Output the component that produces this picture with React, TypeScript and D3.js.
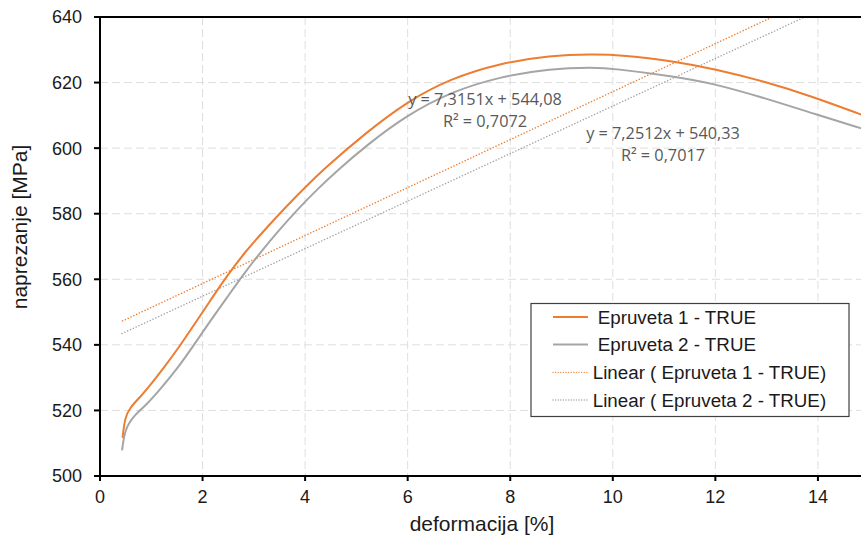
import React from 'react';
import * as d3 from 'd3';

const xTicks = [0, 2, 4, 6, 8, 10, 12, 14];
const yTicks = [500, 520, 540, 560, 580, 600, 620, 640];

const e1X = [0.44, 0.484, 0.58, 0.78, 1.01, 1.235, 1.56, 1.82, 2.15, 2.48, 2.8, 3.2, 3.59, 3.98, 4.34, 5.2, 5.98, 6.83, 7.8, 8.78, 9.6, 10.2, 11.19, 11.97, 13.0, 13.92, 14.85];
const e1Y = [511.6, 517.7, 520.8, 524.0, 528.3, 532.8, 539.7, 545.8, 553.5, 561.1, 567.8, 574.9, 581.5, 587.7, 593.3, 604.9, 614.1, 621.2, 625.9, 628.3, 628.7, 628.4, 626.5, 624.2, 620.2, 615.6, 610.2];

const e2X = [0.43, 0.484, 0.65, 0.91, 1.17, 1.5, 1.82, 2.15, 2.48, 2.8, 3.13, 3.46, 3.85, 4.24, 4.6, 5.2, 5.98, 6.83, 7.8, 8.78, 9.63, 10.0, 11.19, 11.97, 13.0, 13.92, 14.85];
const e2Y = [507.8, 514.2, 518.3, 521.8, 526.4, 532.6, 539.7, 547.3, 554.5, 561.6, 568.2, 574.4, 581.3, 587.5, 592.8, 600.9, 610, 617.1, 621.8, 624.3, 624.6, 624.3, 621.9, 619.7, 615.1, 610.5, 606];

const trendSlopes = [7.3151, 7.2512];
const trendIntercepts = [544.08, 540.33];
const trendEquations = ['y = 7,3151x + 544,08', 'y = 7,2512x + 540,33'];
const trendR2 = ['R² = 0,7072', 'R² = 0,7017'];
const legendLabels = ['Epruveta 1 - TRUE', 'Epruveta 2 - TRUE', 'Linear ( Epruveta 1 - TRUE)', 'Linear ( Epruveta 2 - TRUE)'];

const W = 861, H = 535;
const L = 100, R = 861, T = 17, B = 476;
const ORANGE = '#ED7D31';
const GRAY = '#A5A5A5';
const FONT = '"Liberation Sans", Arial, sans-serif';
const LFONT = '"Open Sans", "Noto Sans", sans-serif';

export default function App() {
  const x = d3.scaleLinear().domain([0, 14.84]).range([L, R]);
  const y = d3.scaleLinear().domain([500, 640]).range([B, T]);
  const line = d3.line<[number, number]>().x(d => x(d[0])).y(d => y(d[1])).curve(d3.curveBasis);
  const s1 = e1X.map((v, i) => [v, e1Y[i]] as [number, number]);
  const s2 = e2X.map((v, i) => [v, e2Y[i]] as [number, number]);
  const series = [s1, s2];
  const colors = [ORANGE, GRAY];
  const trend = trendSlopes.map((m, i) => {
    const xs = series[i].map(d => d[0]);
    const x0 = d3.min(xs)!, x1 = d3.max(xs)!;
    return [[x0, m * x0 + trendIntercepts[i]], [x1, m * x1 + trendIntercepts[i]]] as [number, number][];
  });
  const straight = d3.line<[number, number]>().x(d => x(d[0])).y(d => y(d[1]));
  const eqPos = [[485, 105, 127], [663, 139, 161]];
  const legendY = [317, 344.5, 372.3, 400];

  return (
    <svg width={W} height={H} style={{ position: 'absolute', left: 0, top: 0, background: '#fff' }}>
      <defs>
        <clipPath id="plot"><rect x={L} y={T} width={R - L} height={B - T} /></clipPath>
      </defs>
      <rect x={0} y={0} width={W} height={H} fill="#fff" />
      {xTicks.filter(t => t > 0).map(t => (
        <line key={'gx' + t} x1={x(t)} x2={x(t)} y1={T} y2={B} stroke="#dedede" strokeWidth={1} strokeDasharray="8,4" />
      ))}
      {yTicks.filter(t => t > 500 && t < 640).map(t => (
        <line key={'gy' + t} x1={L} x2={R} y1={y(t)} y2={y(t)} stroke="#dedede" strokeWidth={1} strokeDasharray="8,4" />
      ))}
      <g clipPath="url(#plot)">
        {trend.map((t, i) => (
          <path key={'t' + i} d={straight(t)!} fill="none" stroke={colors[i]} strokeWidth={1.5} strokeDasharray="0.1,3" strokeLinecap="round" />
        ))}
        {series.map((s, i) => (
          <path key={'s' + i} d={line(s)!} fill="none" stroke={colors[i]} strokeWidth={2} />
        ))}
      </g>
      {trendEquations.map((t, i) => (
        <g key={'eq' + i} fontFamily={LFONT} fontSize={16.3} fill="#595959" textAnchor="middle">
          <text x={eqPos[i][0]} y={eqPos[i][1]}>{t}</text>
          <text x={eqPos[i][0]} y={eqPos[i][2]}>{trendR2[i]}</text>
        </g>
      ))}
      <line x1={L} x2={R} y1={T} y2={T} stroke="#000" strokeWidth={2} />
      <line x1={L} x2={L} y1={T - 1} y2={B + 1} stroke="#000" strokeWidth={2} />
      <line x1={L - 1} x2={R} y1={B} y2={B} stroke="#000" strokeWidth={2} />
      {yTicks.map(t => (
        <g key={'yt' + t}>
          <line x1={L - 6} x2={L} y1={y(t)} y2={y(t)} stroke="#000" strokeWidth={2} />
          <text x={82} y={y(t)} dy="0.36em" textAnchor="end" fontFamily={FONT} fontSize={18} fill="#1a1a1a">{t}</text>
        </g>
      ))}
      {xTicks.map(t => (
        <g key={'xt' + t}>
          <line x1={x(t)} x2={x(t)} y1={B} y2={B + 5} stroke="#000" strokeWidth={2} />
          <text x={x(t)} y={503} textAnchor="middle" fontFamily={FONT} fontSize={18} fill="#1a1a1a">{t}</text>
        </g>
      ))}
      <text x={482} y={531} textAnchor="middle" fontFamily={FONT} fontSize={21} fill="#1a1a1a">deformacija [%]</text>
      <text transform={`translate(27,227) rotate(-90)`} textAnchor="middle" fontFamily={FONT} fontSize={21} fill="#1a1a1a">naprezanje [MPa]</text>
      <rect x={531} y={303.5} width={318} height={113} fill="#fff" stroke="#404040" strokeWidth={1.2} />
      {legendLabels.map((lab, i) => {
        const isTrend = i >= 2;
        const c = colors[i % 2];
        return (
          <g key={'lg' + i}>
            <line x1={553} x2={isTrend ? 587 : 588} y1={legendY[i]} y2={legendY[i]} stroke={c} strokeWidth={isTrend ? 1.3 : 2} strokeDasharray={isTrend ? '0.1,2.5' : undefined} strokeLinecap={isTrend ? 'round' : 'butt'} />
            <text x={isTrend ? 592.7 : 597.7} y={legendY[i]} dy="0.36em" fontFamily={FONT} fontSize={18.8} fill="#1a1a1a">{lab}</text>
          </g>
        );
      })}
    </svg>
  );
}
